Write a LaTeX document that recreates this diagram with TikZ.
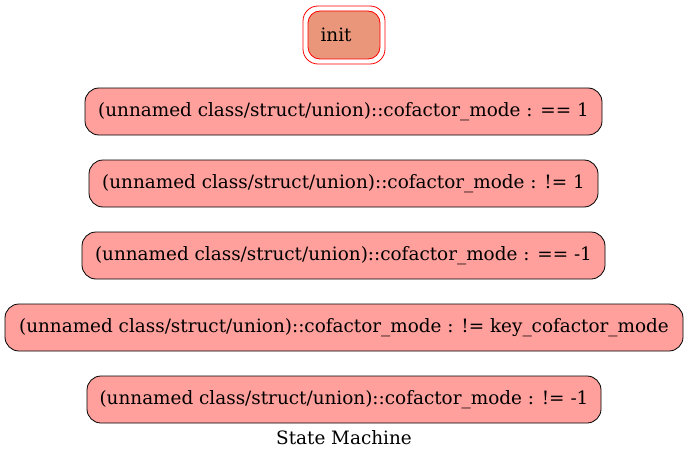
\documentclass[tikz,border=0pt]{standalone}
\usepackage{fontspec}
\setmainfont{DejaVu Serif}
\begin{document}
\begin{tikzpicture}[x=1pt,y=-1pt,
  lbl/.style={font=\fontsize{18.4}{21}\selectfont},
  state/.style={lbl, draw=black, fill=statefill, rounded corners=14pt, line width=0.8pt,
    minimum height=47pt, inner sep=0pt},
  initbox/.style={draw=red, fill=initfill, rounded corners=12pt, line width=0.8pt,
    minimum width=72pt, minimum height=48pt, inner sep=0pt},
  ring/.style={draw=red, rounded corners=15pt, line width=0.8pt,
    minimum width=82pt, minimum height=58pt, inner sep=0pt}]
\definecolor{statefill}{RGB}{255,160,156}
\definecolor{initfill}{RGB}{233,150,122}
\useasboundingbox (0,0) rectangle (688,460);
% initial state with its double outline
\node[ring] (initring) at (344,35) {};
\node[initbox] (init) at (344,35) {};
\node[lbl, anchor=west] (initlabel) at (317,35) {init};
% states
\node[state, minimum width=517pt] (s1) at (343.5,111.5) {(unnamed class/struct/union)::cofactor\_mode : == 1};
\node[state, minimum width=509pt] (s2) at (343.5,183.5) {(unnamed class/struct/union)::cofactor\_mode : != 1};
\node[state, minimum width=523pt] (s3) at (343.5,255.5) {(unnamed class/struct/union)::cofactor\_mode : == -1};
\node[state, minimum width=678pt] (s4) at (344,327.5) {(unnamed class/struct/union)::cofactor\_mode : != key\_cofactor\_mode};
\node[state, minimum width=514pt] (s5) at (344,399.5) {(unnamed class/struct/union)::cofactor\_mode : != -1};
% caption
\node[lbl] (title) at (344,438) {State Machine};
\end{tikzpicture}
\end{document}
